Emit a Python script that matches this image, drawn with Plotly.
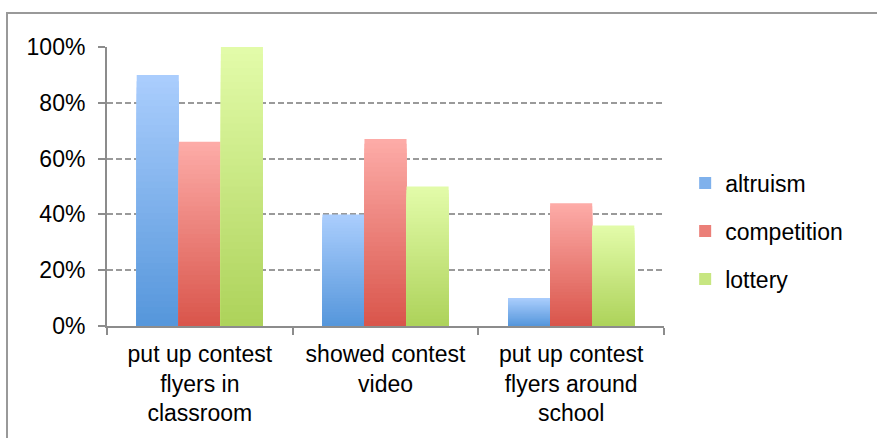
import plotly.graph_objects as go

categories = ["put up contest<br>flyers in<br>classroom", "showed contest<br>video", "put up contest<br>flyers around<br>school"]
series_names = ["altruism", "competition", "lottery"]
altruism = [0.90, 0.40, 0.10]
competition = [0.66, 0.67, 0.44]
lottery = [1.00, 0.50, 0.36]
y_ticks = [0, 0.2, 0.4, 0.6, 0.8, 1.0]

series_values = [altruism, competition, lottery]
# gradient colours: (top, bottom)
grad = [((0xAB, 0xCE, 0xFD), (0x55, 0x96, 0xDB)),
        ((0xFD, 0xAC, 0xA8), (0xD9, 0x55, 0x4B)),
        ((0xE3, 0xFC, 0xAA), (0xAD, 0xD2, 0x5A))]

K = 40
fig = go.Figure()
for s, (name, vals) in enumerate(zip(series_names, series_values)):
    top, bot = grad[s]
    # overlapping bars from the full height down to the shortest, top colour first
    for i in range(K):
        frac = (K - i) / K
        t = (K - i - 0.5) / K  # colour position, 1 = top
        c = tuple(round(bot[j] + (top[j] - bot[j]) * t) for j in range(3))
        col = "rgb(%d,%d,%d)" % c
        fig.add_trace(go.Bar(
            x=categories,
            y=[v * frac for v in vals],
            offsetgroup=name,
            legendgroup=name,
            name=name,
            showlegend=(i == K // 2),
            marker=dict(color=col, line=dict(width=0)),
            hoverinfo="skip",
        ))

font = "Liberation Sans, Arial, sans-serif"
fig.update_layout(
    width=877, height=438,
    margin=dict(l=107, r=213, t=47, b=112),
    paper_bgcolor="white", plot_bgcolor="white",
    barmode="group", bargap=0.32, bargroupgap=0,
    font=dict(family=font, size=23, color="black"),
    legend=dict(x=1.038, xref="paper", y=0.34, xanchor="left", yanchor="middle",
                traceorder="grouped", tracegroupgap=15,
                font=dict(size=23), itemwidth=30),
    showlegend=True,
    shapes=[dict(type="rect", xref="paper", yref="paper",
                 x0=(7 - 107) / 557, x1=(880 - 107) / 557,
                 y0=(326 - 442) / 279, y1=(326 - 13) / 279,
                 line=dict(color="#999999", width=2), layer="below")],
)
fig.update_yaxes(range=[0, 1], tickvals=y_ticks, tickformat=".0%",
                 showgrid=True, gridcolor="#9a9a9a", griddash="6px,3px", gridwidth=1.5,
                 showline=True, linecolor="#8c8c8c", linewidth=2,
                 ticks="outside", ticklen=7, tickwidth=2, tickcolor="#8c8c8c",
                 ticklabelstandoff=8,
                 zeroline=False, tickfont=dict(size=23))
fig.update_xaxes(showline=True, linecolor="#8c8c8c", linewidth=2,
                 ticks="outside", tickson="boundaries", ticklen=7, tickwidth=2,
                 tickcolor="#8c8c8c", ticklabelstandoff=6, automargin=False,
                 tickfont=dict(size=23))

fig.write_html("out.html")
